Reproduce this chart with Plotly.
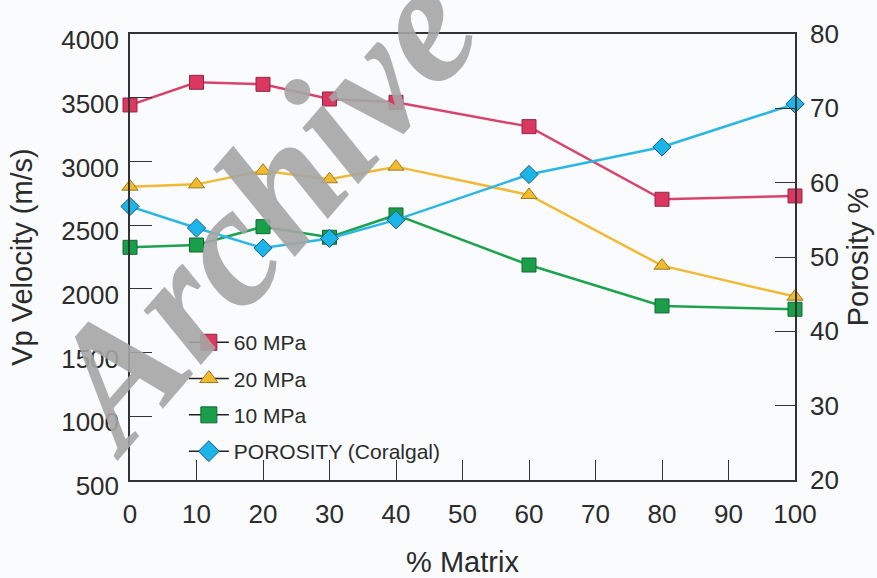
import plotly.graph_objects as go

matrix_pct = [0, 10, 20, 30, 40, 60, 80, 100]
vp_60mpa = [3443, 3621, 3605, 3490, 3464, 3273, 2703, 2729]
vp_20mpa = [2802, 2820, 2927, 2860, 2959, 2737, 2182, 1939]
vp_10mpa = [2326, 2344, 2488, 2405, 2580, 2187, 1866, 1840]
porosity = [56.8, 53.9, 51.2, 52.5, 55.0, 61.1, 64.8, 70.6]

series_names = ["60 MPa", "20 MPa", "10 MPa", "POROSITY (Coralgal)"]
fill_colors = ["#dc3761", "#f2bb2e", "#1a9e4a", "#1cb5ea"]
edge_colors = ["#8e2a45", "#9a7a22", "#0f6a32", "#1d5878"]
line_colors = ["#d8456c", "#f0b936", "#1ea24f", "#2bb6e6"]
symbols = ["square", "triangle-up", "square", "diamond"]
sizes = [14, 14, 14, 14]

font_fam = "Liberation Sans, Arial, sans-serif"
ink = "#2b2b2b"
bg = "#f9fbfc"

fig = go.Figure()

vp_sets = [vp_60mpa, vp_20mpa, vp_10mpa]
for i, vals in enumerate(vp_sets):
    fig.add_trace(go.Scatter(
        x=matrix_pct, y=vals, mode="lines+markers", name=series_names[i],
        line=dict(color=line_colors[i], width=2.5),
        marker=dict(symbol=symbols[i], size=sizes[i], color=fill_colors[i],
                    line=dict(color=edge_colors[i], width=1)),
        cliponaxis=False, showlegend=False, yaxis="y"))

fig.add_trace(go.Scatter(
    x=matrix_pct, y=porosity, mode="lines+markers", name=series_names[3],
    line=dict(color=line_colors[3], width=2.5),
    marker=dict(symbol=symbols[3], size=sizes[3], color=fill_colors[3],
                line=dict(color=edge_colors[3], width=1)),
    cliponaxis=False, showlegend=False, yaxis="y2"))

# legend entries (black line with coloured marker, as in the original key)
for i in range(4):
    fig.add_trace(go.Scatter(
        x=[None], y=[None], mode="lines+markers", name=series_names[i],
        legendgroup=f"g{i}",
        line=dict(color="#222222", width=1.5),
        marker=dict(symbol=symbols[i], size=sizes[i] + 2, color=fill_colors[i],
                    line=dict(color=edge_colors[i], width=1)),
        showlegend=True))

axis_common = dict(showline=True, linecolor="#333333", linewidth=1.5,
                   ticks="inside", tickcolor="#333333", tickwidth=1.2,
                   showgrid=False, zeroline=False, automargin=False,
                   tickfont=dict(family=font_fam, size=26, color=ink))

fig.update_layout(
    width=877, height=578,
    margin=dict(l=130, r=82, t=34, b=98),
    paper_bgcolor=bg, plot_bgcolor=bg,
    font=dict(family=font_fam, color=ink),
    xaxis=dict(range=[0, 100], dtick=10, tick0=0, ticklen=20, mirror=True,
               ticklabelstandoff=10,
               title=dict(text="% Matrix", font=dict(size=29, color=ink), standoff=26),
               **axis_common),
    yaxis=dict(range=[500, 4000], dtick=500, tick0=500, ticklen=22,
               ticklabelshift=6, ticklabelstandoff=4,
               title=dict(text="Vp Velocity (m/s)", font=dict(size=29, color=ink), standoff=20),
               **axis_common),
    yaxis2=dict(range=[20, 80], dtick=10, tick0=20, ticklen=20, overlaying="y",
                side="right", ticklabelstandoff=8,
                title=dict(text="Porosity %", font=dict(size=29, color=ink), standoff=10),
                **axis_common),
    legend=dict(x=0.081, y=0.354, xanchor="left", yanchor="top",
                bgcolor="rgba(0,0,0,0)", borderwidth=0,
                font=dict(family=font_fam, size=21, color=ink),
                tracegroupgap=6, itemwidth=40),
    showlegend=True,
    annotations=[dict(
        text="<b><i>Archive</i></b>", xref="paper", yref="paper",
        x=(258 - 130) / 665, y=(480 - 211) / 446,
        xanchor="center", yanchor="middle",
        showarrow=False, textangle=-49,
        font=dict(family="Liberation Serif, Times New Roman, serif", size=172,
                  color="rgba(165,165,165,0.9)"))],
)

fig.write_html("out.html")
